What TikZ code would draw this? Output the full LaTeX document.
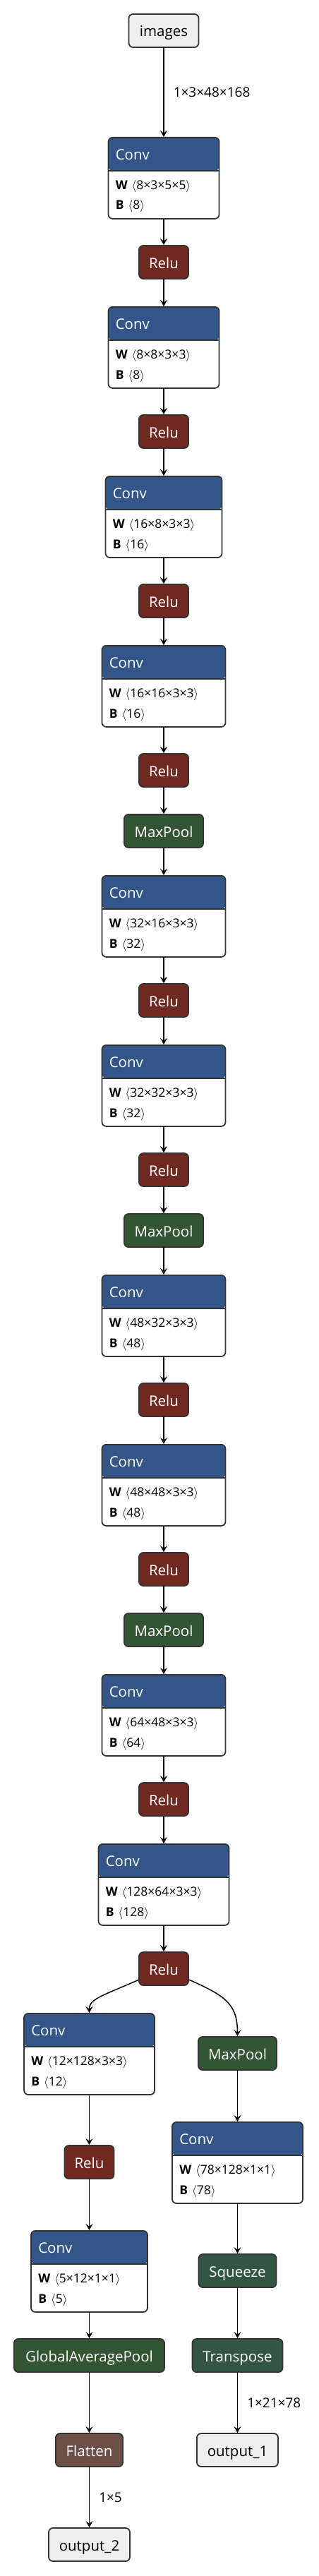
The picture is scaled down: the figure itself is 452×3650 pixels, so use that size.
\documentclass[tikz,border=0pt]{standalone}
\usepackage{fontspec}
\setmainfont{Open Sans}
\usetikzlibrary{arrows.meta}

\definecolor{convblue}{RGB}{51,85,136}
\definecolor{relured}{RGB}{112,41,33}
\definecolor{poolgreen}{RGB}{51,85,51}
\definecolor{shapegreen}{RGB}{51,85,68}
\definecolor{flatbrown}{RGB}{108,79,71}
\definecolor{iogrey}{RGB}{238,238,238}
\definecolor{nodeline}{RGB}{51,51,51}

\newcommand{\titlefont}{\fontsize{20.5}{24}\selectfont}
\newcommand{\attrfont}{\fontsize{17.5}{21}\selectfont}
\newcommand{\labelfont}{\fontsize{19}{22}\selectfont}

\tikzset{
  edge/.style={line width=1.5pt, -{Stealth[length=9pt, width=10pt, inset=3.5pt]}},
  edgelabel/.style={right, inner sep=0pt, xshift=13pt, font=\labelfont},
  opbox/.style={draw=nodeline, line width=1.8pt, rounded corners=6pt,
    minimum height=47pt, inner xsep=0pt, inner ysep=0pt,
    text height=17pt, text depth=0pt, font=\titlefont, text=white},
  relubox/.style={opbox, fill=relured, minimum width=70pt},
  poolbox/.style={opbox, fill=poolgreen, minimum width=112pt},
  iobox/.style={opbox, fill=iogrey, text=black},
  convbox/.style={draw=nodeline, line width=1.8pt, rounded corners=6pt,
    fill=white, minimum height=115pt, inner sep=0pt,
    path picture={
      \fill[convblue] (path picture bounding box.north west)
        rectangle ([yshift=-47pt]path picture bounding box.north east);
      \draw[nodeline, line width=1.8pt] ([yshift=-47pt]path picture bounding box.north west)
        -- ([yshift=-47pt]path picture bounding box.north east);
    }},
  convtitle/.style={anchor=base west, inner sep=0pt, font=\titlefont, text=white},
  convattr/.style={anchor=base west, inner sep=0pt, font=\attrfont}
}

% name, x, top, width, W shape, B shape
\newcommand{\convnode}[6]{%
  \node[convbox, minimum width=#4pt, anchor=north] (#1) at (#2,#3) {};
  \node[convtitle] at ([shift={(11,32.5)}]#1.north west) {Conv};
  \node[convattr] at ([shift={(11,74.5)}]#1.north west) {\textbf{W}\hspace{6pt}$\langle$#5$\rangle$};
  \node[convattr] at ([shift={(11,103)}]#1.north west) {\textbf{B}\hspace{6pt}$\langle$#6$\rangle$};
}

\begin{document}
\begin{tikzpicture}[x=1pt, y=-1pt, line cap=round, line join=round]
  \fill[white] (0,0) rectangle (452,3650);
  \useasboundingbox (0,0) rectangle (452,3650);

  % input
  \node[iobox, minimum width=99pt] (images) at (232,43.5) {images};

  % main column
  \convnode{conv1}{232}{194}{157}{8×3×5×5}{8}
  \node[relubox] (relu1) at (232,371.5) {Relu};
  \convnode{conv2}{232}{434}{157}{8×8×3×3}{8}
  \node[relubox] (relu2) at (232,611.5) {Relu};
  \convnode{conv3}{232}{674}{165}{16×8×3×3}{16}
  \node[relubox] (relu3) at (232,851.5) {Relu};
  \convnode{conv4}{232}{914}{175}{16×16×3×3}{16}
  \node[relubox] (relu4) at (232,1091.5) {Relu};
  \node[poolbox] (pool1) at (232,1177.5) {MaxPool};
  \convnode{conv5}{232}{1240}{175}{32×16×3×3}{32}
  \node[relubox] (relu5) at (232,1417.5) {Relu};
  \convnode{conv6}{232}{1480}{175}{32×32×3×3}{32}
  \node[relubox] (relu6) at (232,1657.5) {Relu};
  \node[poolbox] (pool2) at (232,1743.5) {MaxPool};
  \convnode{conv7}{232}{1806}{175}{48×32×3×3}{48}
  \node[relubox] (relu7) at (232,1983.5) {Relu};
  \convnode{conv8}{232}{2046}{175}{48×48×3×3}{48}
  \node[relubox] (relu8) at (232,2223.5) {Relu};
  \node[poolbox] (pool3) at (232,2309.5) {MaxPool};
  \convnode{conv9}{232}{2372}{175}{64×48×3×3}{64}
  \node[relubox] (relu9) at (232,2549.5) {Relu};
  \convnode{conv10}{232}{2612}{185}{128×64×3×3}{128}
  \node[relubox] (relu10) at (232,2789.5) {Relu};

  % left branch
  \convnode{lconv1}{126.5}{2852}{185}{12×128×3×3}{12}
  \node[relubox] (lrelu) at (126.5,3063.5) {Relu};
  \convnode{lconv2}{126.5}{3160}{165}{5×12×1×1}{5}
  \node[poolbox, minimum width=213pt] (gap) at (126.5,3337.5) {GlobalAveragePool};
  \node[opbox, fill=flatbrown, minimum width=95pt] (flatten) at (126.5,3471.5) {Flatten};
  \node[iobox, minimum width=115pt] (output2) at (126.5,3605.5) {output\_2};

  % right branch
  \node[poolbox, minimum width=111pt] (rpool) at (336.5,2909.5) {MaxPool};
  \convnode{rconv}{336.5}{3006}{185}{78×128×1×1}{78}
  \node[opbox, fill=shapegreen, minimum width=110pt] (squeeze) at (336.5,3217.5) {Squeeze};
  \node[opbox, fill=shapegreen, minimum width=128pt] (transpose) at (336.5,3337.5) {Transpose};
  \node[iobox, minimum width=115pt] (output1) at (336.5,3471.5) {output\_1};

  % edges
  \draw[edge] (images) -- node[edgelabel] {1×3×48×168} (conv1);
  \draw[edge] (conv1) -- (relu1);
  \draw[edge] (relu1) -- (conv2);
  \draw[edge] (conv2) -- (relu2);
  \draw[edge] (relu2) -- (conv3);
  \draw[edge] (conv3) -- (relu3);
  \draw[edge] (relu3) -- (conv4);
  \draw[edge] (conv4) -- (relu4);
  \draw[edge] (relu4) -- (pool1);
  \draw[edge] (pool1) -- (conv5);
  \draw[edge] (conv5) -- (relu5);
  \draw[edge] (relu5) -- (conv6);
  \draw[edge] (conv6) -- (relu6);
  \draw[edge] (relu6) -- (pool2);
  \draw[edge] (pool2) -- (conv7);
  \draw[edge] (conv7) -- (relu7);
  \draw[edge] (relu7) -- (conv8);
  \draw[edge] (conv8) -- (relu8);
  \draw[edge] (relu8) -- (pool3);
  \draw[edge] (pool3) -- (conv9);
  \draw[edge] (conv9) -- (relu9);
  \draw[edge] (relu9) -- (conv10);
  \draw[edge] (conv10) -- (relu10);

  % split
  \draw[edge] (relu10) .. controls (145,2828) and (126.5,2832) .. (lconv1);
  \draw[edge] (relu10) .. controls (320,2828) and (336.5,2840) .. (rpool);

  \draw[edge] (lconv1) -- (lrelu);
  \draw[edge] (lrelu) -- (lconv2);
  \draw[edge] (lconv2) -- (gap);
  \draw[edge] (gap) -- (flatten);
  \draw[edge] (flatten) -- node[edgelabel] {1×5} (output2);

  \draw[edge] (rpool) -- (rconv);
  \draw[edge] (rconv) -- (squeeze);
  \draw[edge] (squeeze) -- (transpose);
  \draw[edge] (transpose) -- node[edgelabel] {1×21×78} (output1);
\end{tikzpicture}
\end{document}
